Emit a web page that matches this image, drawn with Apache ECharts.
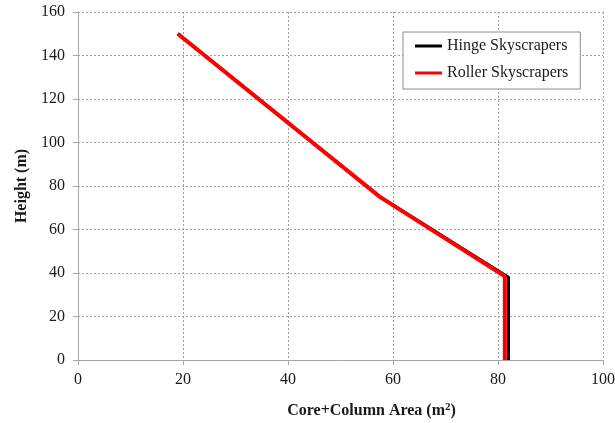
<!DOCTYPE html>
<html>
<head>
<meta charset="utf-8">
<script src="https://cdn.jsdelivr.net/npm/echarts@6/dist/echarts.min.js"></script>
<style>
  html, body { margin: 0; padding: 0; background: #fff; }
  #chart { width: 615px; height: 423px; }
</style>
</head>
<body>
<div id="chart"></div>
<script>
// Core + column area against height for two skyscraper types
const seriesNames = ['Hinge Skyscrapers', 'Roller Skyscrapers'];
const hingeArea = [19, 57.5, 82.0, 82.0];
const hingeHeight = [150, 75, 38, 0];
const rollerArea = [19, 57.5, 81.3, 81.3];
const rollerHeight = [150, 75, 38.5, 0];
const xTicks = [0, 20, 40, 60, 80, 100];
const yTicks = [0, 20, 40, 60, 80, 100, 120, 140, 160];

const pairs = (xs, ys) => xs.map((x, i) => [x, ys[i]]);
const serif = '"Liberation Serif", "DejaVu Serif", serif';
const ink = '#1a1a1a';

const chart = echarts.init(document.getElementById('chart'));
chart.setOption({
  animation: false,
  grid: { left: 78, right: 12, top: 12, bottom: 63, show: false, containLabel: false, outerBoundsMode: 'none' },
  legend: {
    orient: 'vertical',
    left: 403,
    top: 32,
    padding: [5, 12, 7, 12],
    itemGap: 9,
    itemWidth: 27,
    itemHeight: 3,
    icon: 'rect',
    backgroundColor: '#fff',
    borderColor: '#8c8c8c',
    borderWidth: 1,
    textStyle: { fontFamily: serif, fontSize: 16, color: ink, lineHeight: 18 },
    data: seriesNames
  },
  xAxis: {
    type: 'value',
    min: xTicks[0],
    max: xTicks[xTicks.length - 1],
    interval: 20,
    name: '{a|Core+Column Area (m}{s|2}{a|)}',
    nameLocation: 'middle',
    nameGap: 42,
    nameTextStyle: {
      padding: [0, 0, 0, 62],
      rich: {
        a: { fontFamily: serif, fontSize: 16, fontWeight: 'bold', color: ink },
        s: { fontFamily: serif, fontSize: 11, fontWeight: 'bold', color: ink, verticalAlign: 'top', padding: [0, 0, 7, 0] }
      }
    },
    axisLine: { show: true, lineStyle: { color: '#a6a6a6', width: 1 } },
    axisTick: { show: true, length: 5, lineStyle: { color: '#a6a6a6' } },
    axisLabel: { fontFamily: serif, fontSize: 16, color: ink, margin: 12 },
    splitLine: { show: true, lineStyle: { color: '#a0a0a0', type: [2, 2], width: 1 } }
  },
  yAxis: {
    type: 'value',
    min: yTicks[0],
    max: yTicks[yTicks.length - 1],
    interval: 20,
    name: 'Height (m)',
    nameLocation: 'middle',
    nameGap: 48,
    nameTextStyle: { fontFamily: serif, fontSize: 16, fontWeight: 'bold', color: ink },
    axisLine: { show: true, lineStyle: { color: '#a6a6a6', width: 1 } },
    axisTick: { show: true, length: 5, lineStyle: { color: '#a6a6a6' } },
    axisLabel: { fontFamily: serif, fontSize: 16, color: ink, margin: 13 },
    splitLine: { show: true, lineStyle: { color: '#a0a0a0', type: [2, 2], width: 1 } }
  },
  series: [
    {
      name: seriesNames[0],
      type: 'line',
      data: pairs(hingeArea, hingeHeight),
      showSymbol: false,
      symbol: 'none',
      color: '#000000',
      lineStyle: { color: '#000000', width: 3 },
      z: 2
    },
    {
      name: seriesNames[1],
      type: 'line',
      data: pairs(rollerArea, rollerHeight),
      showSymbol: false,
      symbol: 'none',
      color: '#ff0000',
      lineStyle: { color: '#ff0000', width: 4 },
      z: 3
    }
  ]
});
</script>
</body>
</html>
